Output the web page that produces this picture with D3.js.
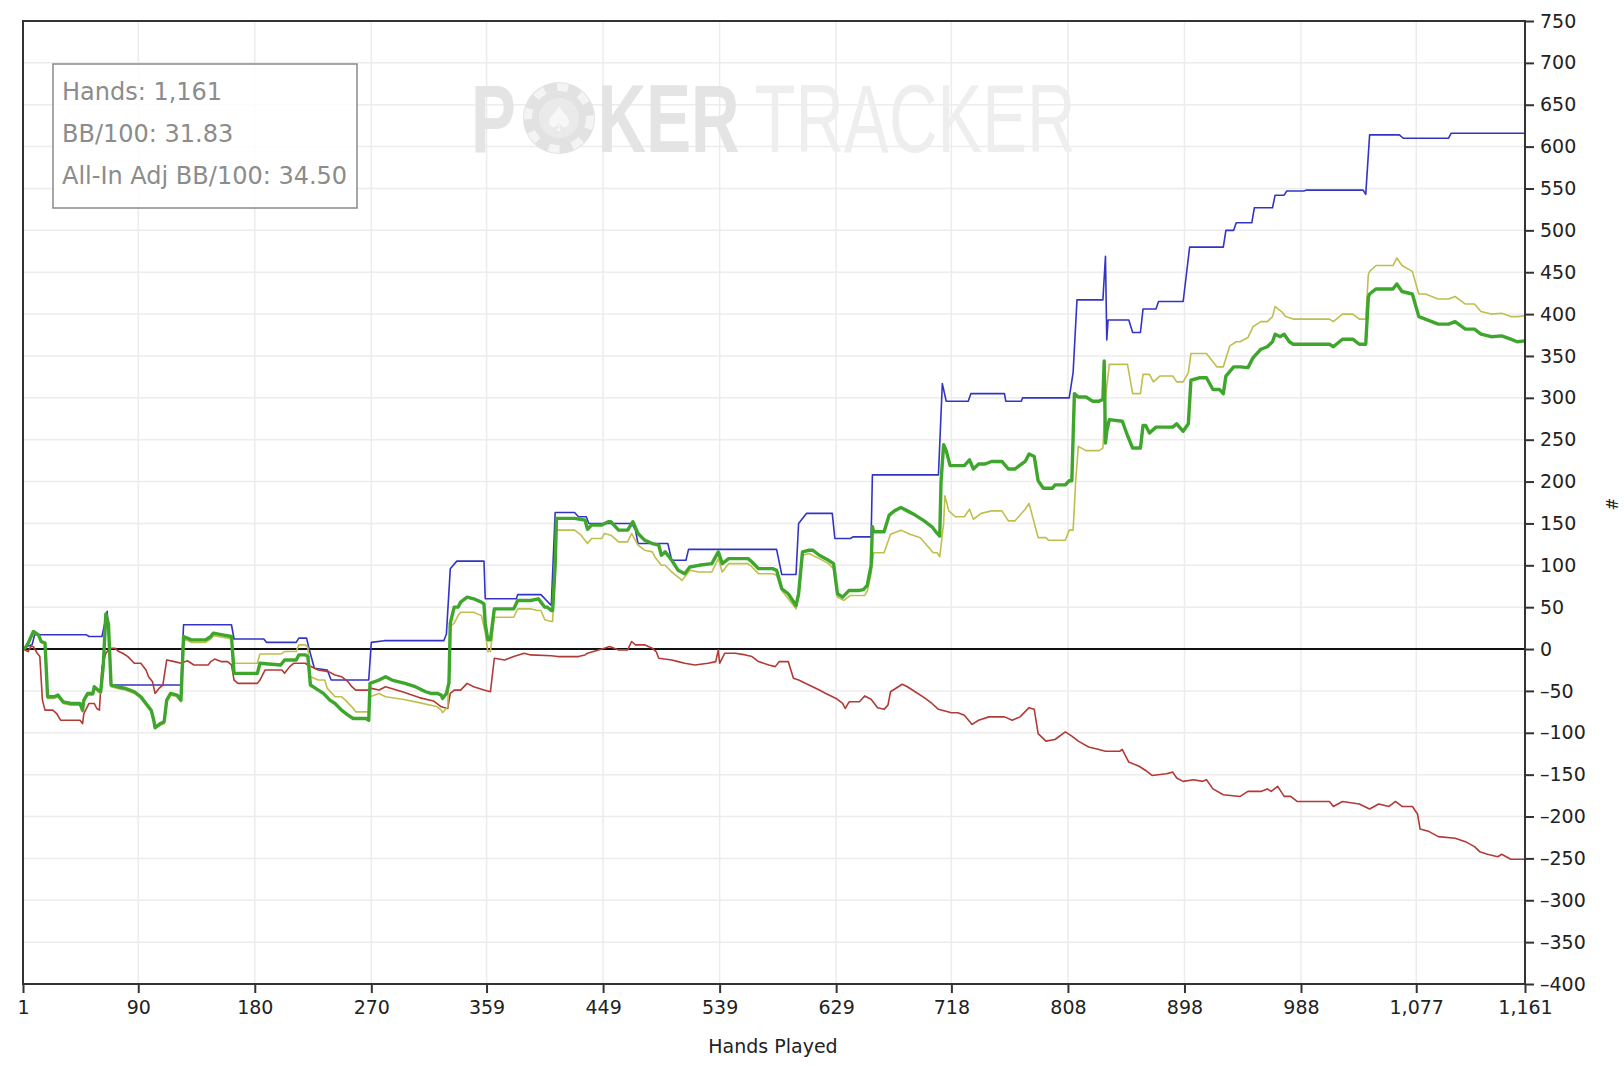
<!DOCTYPE html>
<html>
<head>
<meta charset="utf-8">
<script src="https://cdn.jsdelivr.net/npm/d3@7"></script>
<style>
  html, body { margin: 0; padding: 0; background: #fff; }
  svg { display: block; }
</style>
</head>
<body>
<script>
const width = 1624;
const height = 1066;

// tick values
const handTicks = [1, 90, 180, 270, 359, 449, 539, 629, 718, 808, 898, 988, 1077, 1161];
const valueTicks = [-400, -350, -300, -250, -200, -150, -100, -50, 0, 50, 100, 150, 200, 250,
    300, 350, 400, 450, 500, 550, 600, 650, 700, 750];

const statLines = ['Hands: 1,161', 'BB/100: 31.83', 'All-In Adj BB/100: 34.50'];

// [hand, big blinds]
const netWon = [[1,0],[4,3],[8,5],[10,17],[50,17],[52,15],[62,15],[64,30],[66,45],[67,20],[69,-43],
    [123,-43],[125,29],[162,29],[164,12],[187,12],[189,8],[212,8],[214,13],[220,13],[222,0],[226,-23],
    [236,-25],[239,-37],[268,-37],[270,8],[280,10],[326,10],[328,18],[331,96],[336,105],[357,105],
    [358,60],[382,60],[383,65],[401,65],[409,52],[412,163],[427,163],[430,158],[436,158],[438,150],
    [471,150],[474,142],[476,126],[499,126],[502,106],[513,106],[515,119],[583,119],[587,89],[598,89],
    [600,150],[606,162],[626,162],[628,132],[640,132],[642,134],[656,134],[657,208],[708,208],[711,317],
    [714,296],[731,296],[733,305],[759,305],[760,296],[772,296],[773,300],[809,300],[812,330],[815,417],
    [835,417],[837,469],[838,369],[839,393],[855,393],[858,378],[864,378],[866,406],[876,406],[878,415],
    [897,415],[902,480],[928,480],[930,500],[936,500],[938,509],[950,509],[952,527],[966,527],[968,542],
    [975,542],[977,547],[990,547],[992,548],[1036,548],[1038,543],[1041,614],[1064,614],[1067,610],
    [1102,610],[1104,616],[1161,616]];

const allInAdj = [[1,0],[3,2],[5,6],[9,19],[13,16],[15,8],[18,6],[20,-59],[25,-59],[28,-57],[32,-65],
    [38,-67],[45,-67],[47,-75],[48,-63],[51,-55],[55,-55],[56,-47],[59,-51],[61,-53],[63,-22],[65,40],
    [67,28],[69,-45],[74,-47],[80,-49],[87,-53],[92,-59],[96,-67],[100,-75],[102,-87],[103,-95],[107,-91],
    [110,-89],[112,-63],[115,-55],[120,-57],[123,-63],[125,12],[131,8],[142,8],[146,12],[148,16],[155,14],
    [162,12],[164,-17],[182,-17],[184,-6],[200,-6],[203,-3],[212,-3],[214,5],[219,5],[221,2],[223,-33],
    [229,-37],[234,-37],[236,-47],[242,-57],[247,-57],[250,-61],[255,-69],[258,-75],[268,-75],[269,-57],
    [276,-53],[281,-57],[294,-60],[307,-64],[321,-69],[324,-73],[325,-76],[329,-69],[331,27],[334,31],
    [337,40],[339,44],[349,44],[352,42],[355,40],[358,20],[360,-3],[362,-3],[365,38],[380,38],[383,48],
    [393,48],[398,46],[401,46],[404,35],[409,33],[410,33],[412,90],[413,142],[427,142],[432,136],[437,126],
    [440,132],[448,132],[450,138],[455,136],[461,128],[468,128],[471,138],[476,124],[481,118],[487,116],
    [489,110],[494,100],[497,100],[502,92],[507,86],[510,82],[516,94],[523,92],[533,92],[538,108],[541,92],
    [546,102],[561,102],[564,98],[569,90],[580,90],[583,88],[587,70],[592,60],[598,48],[600,62],[603,112],
    [608,114],[616,108],[623,102],[627,96],[630,62],[635,58],[640,64],[651,64],[653,69],[656,90],[658,115],
    [666,115],[671,137],[679,142],[686,137],[694,133],[699,124],[704,115],[707,115],[709,110],[712,150],
    [713,183],[716,165],[721,158],[728,158],[732,167],[735,155],[741,162],[749,165],[757,165],[762,153],
    [767,153],[775,167],[778,174],[785,133],[791,133],[793,130],[806,130],[809,142],[812,142],[814,200],
    [816,242],[822,237],[832,237],[835,240],[837,300],[840,340],[854,340],[858,305],[864,305],[866,328],
    [871,328],[874,319],[879,326],[889,326],[892,319],[897,319],[901,330],[903,353],[915,353],[923,337],
    [928,337],[933,362],[938,367],[941,367],[947,372],[951,385],[957,391],[962,391],[966,397],[968,409],
    [973,403],[976,397],[982,394],[1010,394],[1013,391],[1020,400],[1028,400],[1033,394],[1038,394],
    [1040,447],[1041,451],[1046,458],[1059,458],[1062,467],[1066,458],[1074,451],[1079,424],[1084,424],
    [1094,418],[1102,418],[1107,421],[1115,412],[1122,412],[1127,403],[1135,400],[1143,401],[1150,397],
    [1155,397],[1161,398]];

const wonLost = [[1,0],[3,2],[5,7],[9,21],[13,17],[15,9],[18,7],[20,-57],[25,-57],[28,-55],[32,-63],
    [38,-65],[45,-65],[47,-73],[48,-61],[51,-53],[55,-53],[56,-45],[59,-49],[61,-51],[63,-20],[65,42],
    [67,30],[69,-43],[74,-45],[80,-47],[87,-51],[92,-57],[96,-65],[100,-73],[102,-85],[103,-94],[107,-89],
    [110,-87],[112,-61],[115,-53],[120,-55],[123,-61],[125,15],[131,11],[142,11],[146,15],[148,19],
    [155,17],[162,15],[164,-29],[182,-29],[184,-17],[200,-19],[203,-13],[212,-13],[214,-7],[219,-7],
    [221,-9],[223,-43],[227,-47],[233,-53],[238,-61],[242,-65],[247,-73],[252,-79],[256,-83],[266,-83],
    [268,-85],[269,-41],[276,-37],[281,-33],[286,-37],[296,-41],[304,-45],[312,-51],[316,-53],[321,-53],
    [324,-55],[325,-59],[328,-53],[330,-40],[331,31],[334,50],[337,50],[339,56],[344,62],[349,60],
    [355,56],[357,54],[358,30],[360,11],[362,11],[365,48],[380,48],[383,58],[393,58],[399,60],[401,56],
    [404,50],[406,50],[409,46],[410,46],[412,100],[413,156],[427,156],[435,154],[437,143],[440,148],
    [448,148],[453,152],[455,152],[461,142],[468,142],[472,152],[476,138],[481,130],[487,126],[492,124],
    [494,112],[497,116],[502,106],[507,94],[512,90],[516,98],[523,100],[533,102],[538,116],[541,102],
    [546,108],[561,108],[564,104],[569,96],[580,96],[583,94],[587,72],[592,66],[598,52],[600,66],[603,116],
    [608,118],[611,118],[616,112],[623,106],[627,102],[630,66],[634,62],[639,70],[647,70],[650,71],
    [653,76],[656,100],[657,146],[658,140],[666,140],[670,160],[674,165],[679,169],[684,165],[690,160],
    [697,153],[703,146],[706,140],[709,135],[710,200],[712,244],[714,237],[717,219],[728,219],[732,226],
    [735,215],[739,221],[744,221],[749,224],[757,224],[762,215],[767,215],[775,224],[778,233],[782,230],
    [785,201],[789,192],[796,192],[798,196],[806,196],[809,201],[811,201],[813,305],[816,301],[822,301],
    [827,296],[832,296],[835,298],[836,344],[837,246],[838,260],[840,274],[850,272],[854,255],[858,240],
    [864,240],[866,267],[868,267],[871,258],[876,265],[889,265],[892,269],[897,260],[901,269],[903,321],
    [910,324],[915,324],[920,310],[925,310],[928,305],[930,326],[936,337],[941,337],[947,336],[951,348],
    [957,358],[962,361],[966,367],[968,376],[972,373],[975,376],[979,367],[982,364],[1010,364],[1013,361],
    [1020,370],[1028,370],[1033,364],[1038,364],[1040,420],[1041,424],[1046,430],[1059,430],[1062,436],
    [1066,427],[1074,424],[1079,397],[1084,394],[1094,388],[1102,388],[1107,391],[1115,382],[1122,382],
    [1127,376],[1135,373],[1143,374],[1150,370],[1155,367],[1161,368]];

const nonShowdown = [[1,0],[5,-3],[7,3],[9,3],[12,-5],[14,-9],[16,-61],[18,-73],[24,-73],[27,-77],
    [30,-85],[45,-85],[47,-89],[48,-77],[52,-65],[56,-65],[58,-71],[60,-73],[62,-21],[65,-5],[68,1],
    [72,1],[75,-3],[78,-5],[82,-9],[87,-17],[92,-17],[96,-25],[98,-33],[101,-39],[103,-53],[106,-47],
    [109,-43],[112,-13],[118,-15],[123,-17],[128,-14],[133,-19],[144,-19],[146,-15],[149,-12],[154,-15],
    [159,-15],[162,-19],[164,-37],[167,-41],[182,-41],[184,-37],[188,-25],[201,-25],[203,-29],[207,-21],
    [210,-17],[219,-17],[221,-19],[229,-25],[237,-27],[242,-31],[247,-33],[252,-39],[255,-45],[258,-49],
    [268,-49],[270,-47],[276,-49],[281,-45],[294,-51],[307,-58],[318,-62],[324,-69],[329,-71],[331,-53],
    [334,-49],[339,-49],[344,-41],[349,-45],[357,-49],[362,-51],[365,-11],[373,-13],[380,-9],[388,-5],
    [393,-7],[409,-8],[414,-9],[430,-9],[435,-7],[437,-5],[450,1],[454,3],[461,-1],[468,-1],[471,9],
    [474,5],[481,5],[487,1],[490,-3],[492,-11],[502,-13],[507,-15],[512,-17],[520,-19],[530,-17],
    [536,-15],[538,-1],[539,-17],[543,-5],[551,-5],[559,-7],[564,-9],[569,-15],[577,-19],[582,-21],
    [585,-15],[592,-15],[596,-35],[600,-37],[608,-43],[616,-49],[621,-53],[629,-59],[634,-65],[636,-71],
    [639,-63],[647,-63],[651,-56],[656,-60],[661,-70],[666,-72],[669,-67],[671,-51],[677,-45],[680,-42],
    [684,-45],[690,-51],[697,-58],[703,-65],[708,-72],[713,-74],[718,-76],[723,-76],[728,-79],[734,-90],
    [739,-85],[747,-81],[759,-81],[765,-85],[771,-81],[778,-70],[782,-72],[785,-101],[791,-110],[798,-108],
    [806,-99],[811,-104],[816,-110],[824,-117],[832,-120],[837,-122],[848,-122],[850,-120],[855,-135],
    [863,-140],[868,-145],[873,-151],[884,-149],[889,-147],[892,-154],[897,-158],[905,-156],[912,-158],
    [915,-156],[920,-167],[928,-174],[941,-176],[947,-170],[957,-170],[962,-167],[965,-170],[970,-164],
    [975,-176],[980,-176],[985,-182],[1010,-182],[1013,-188],[1020,-182],[1033,-185],[1041,-191],
    [1048,-185],[1056,-188],[1061,-182],[1066,-188],[1074,-188],[1078,-197],[1080,-215],[1087,-218],
    [1094,-224],[1107,-226],[1115,-230],[1122,-236],[1126,-242],[1132,-245],[1140,-248],[1143,-245],
    [1150,-251],[1161,-251]];

const plot = { left: 23, top: 21, right: 1525, bottom: 984 };

const x = d3.scaleLinear().domain([1, 1161]).range([plot.left, plot.right]);
const y = d3.scaleLinear().domain([-400, 750]).range([plot.bottom, plot.top]);

const svg = d3.select('body').append('svg').attr('width', width).attr('height', height);

// grid
svg.append('g').selectAll('line').data(valueTicks).enter().append('line')
    .attr('x1', plot.left).attr('x2', plot.right)
    .attr('y1', d => y(d)).attr('y2', d => y(d))
    .style('stroke', '#ececec').style('stroke-width', 1.5);
svg.append('g').selectAll('line').data(handTicks).enter().append('line')
    .attr('x1', d => x(d)).attr('x2', d => x(d))
    .attr('y1', plot.top).attr('y2', plot.bottom)
    .style('stroke', '#ececec').style('stroke-width', 1.5);

// watermark, squeezed horizontally
const wm = svg.append('g').attr('class', 'watermark');
const wmText = wm.append('g').attr('transform', 'translate(471,152) scale(0.7,1)')
    .style('font-family', 'Liberation Sans, Arial, sans-serif').style('font-size', '96px');
wmText.append('text').attr('x', 0).text('P').style('font-weight', 'bold').style('fill', '#e4e4e4');
wmText.append('text').attr('x', 181).text('KER').style('font-weight', 'bold').style('fill', '#e4e4e4');
wmText.append('text').attr('x', 405).text('TRACKER').style('fill', '#eeeeee');
wm.append('circle').attr('cx', 559).attr('cy', 118).attr('r', 36).style('fill', '#e2e2e2');
wm.append('circle').attr('cx', 559).attr('cy', 118).attr('r', 31).style('fill', 'none')
    .style('stroke', '#f4f4f4').style('stroke-width', 8).style('stroke-dasharray', '11 13');
wm.append('circle').attr('cx', 559).attr('cy', 118).attr('r', 20).style('fill', '#eaeaea');
wm.append('text').attr('x', 559).attr('y', 131).text('\u2660').style('text-anchor', 'middle')
    .style('font-family', 'DejaVu Sans, sans-serif').style('font-size', '34px').style('fill', '#f7f7f7');

// zero line
svg.append('line').attr('x1', plot.left).attr('x2', plot.right)
    .attr('y1', y(0)).attr('y2', y(0))
    .style('stroke', '#111').style('stroke-width', 2);

// series
const line = d3.line().x(d => x(d[0])).y(d => y(d[1]));
const series = [
    { data: netWon, color: '#3434c4', w: 1.6 },
    { data: nonShowdown, color: '#b23a36', w: 1.6 },
    { data: allInAdj, color: '#bfbf4e', w: 1.6 },
    { data: wonLost, color: '#3ea62c', w: 3.4 }
];
series.forEach(s => {
    svg.append('path').datum(s.data).attr('d', line)
        .style('fill', 'none').style('stroke', s.color).style('stroke-width', s.w)
        .style('stroke-linejoin', 'round');
});

// frame
svg.append('rect').attr('x', plot.left).attr('y', plot.top)
    .attr('width', plot.right - plot.left).attr('height', plot.bottom - plot.top)
    .style('fill', 'none').style('stroke', '#333').style('stroke-width', 2);

// axes
const xAxis = svg.append('g').attr('transform', `translate(0,${plot.bottom})`)
    .call(d3.axisBottom(x).tickValues(handTicks).tickFormat(d3.format(',')).tickSize(9).tickPadding(8));
const yAxis = svg.append('g').attr('transform', `translate(${plot.right},0)`)
    .call(d3.axisRight(y).tickValues(valueTicks).tickFormat(d => String(d).replace('-', '\u2013')).tickSize(9).tickPadding(6));
[xAxis, yAxis].forEach(a => {
    a.select('.domain').remove();
    a.selectAll('.tick line').style('stroke', '#333').style('stroke-width', 2);
    a.selectAll('.tick text').style('font-family', 'DejaVu Sans, sans-serif')
        .style('font-size', '19px').style('fill', '#222');
});

svg.append('text').attr('x', 773).attr('y', 1053).text('Hands Played')
    .style('text-anchor', 'middle').style('font-family', 'DejaVu Sans, sans-serif')
    .style('font-size', '19px').style('fill', '#222');

svg.append('text').attr('transform', 'translate(1606,504) rotate(90)').text('#')
    .style('text-anchor', 'middle').style('font-family', 'DejaVu Sans, sans-serif')
    .style('font-size', '15px').style('fill', '#222');

// stats box
svg.append('rect').attr('x', 53).attr('y', 64).attr('width', 304).attr('height', 144)
    .style('fill', '#fff').style('fill-opacity', 0.85)
    .style('stroke', '#8a8a8a').style('stroke-width', 1.5);
svg.selectAll('text.stat').data(statLines).enter().append('text').classed('stat', true)
    .attr('x', 62).attr('y', (d, i) => 100 + i * 42).text(d => d)
    .style('font-family', 'DejaVu Sans, sans-serif').style('font-size', '24px').style('fill', '#8c8c8c');
</script>
</body>
</html>
